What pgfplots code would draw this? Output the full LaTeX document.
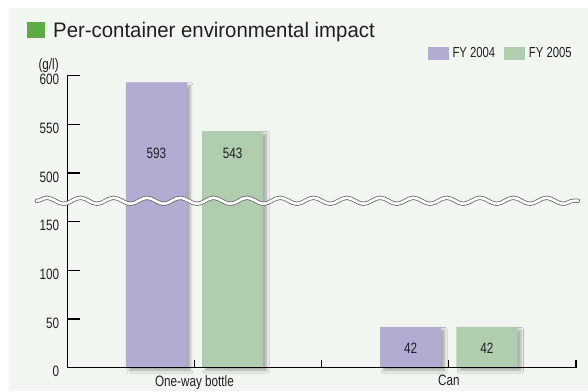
\documentclass[border=0pt]{standalone}
\usepackage{fontspec}
\setmainfont{Liberation Sans}
\newfontfamily\titlefont{Liberation Sans}[FakeStretch=0.97]
\newfontfamily\cond{Liberation Sans}[FakeStretch=0.78]
\usepackage{pgfplots}
\pgfplotsset{compat=1.18}
\usetikzlibrary{decorations.pathmorphing,shadows.blur}
\definecolor{bgc}{RGB}{241,246,240}
\definecolor{purp}{RGB}{178,171,210}
\definecolor{grn}{RGB}{176,205,176}
\definecolor{titlegrn}{RGB}{93,170,71}
\definecolor{txt}{RGB}{35,31,32}
\begin{document}
\begin{tikzpicture}[x=1pt,y=1pt]
\useasboundingbox (0,0) rectangle (588,391);
\fill[white] (0,0) rectangle (588,391);
\fill[bgc] (8.5,0) rectangle (588,382.5);
\fill[titlegrn] (27,352.7) rectangle (45,369.3);
\node[anchor=base west, inner sep=0pt, font=\titlefont\fontsize{21}{24}\selectfont, text=txt] at (53,353.3) {Per-container environmental impact};
\node[anchor=base west, inner sep=0pt, font=\cond\fontsize{15}{18}\selectfont, text=txt] at (38.3,321.2) {(g/l)};
\begin{axis}[
  at={(67.3pt,23.3pt)}, anchor=south west,
  scale only axis, width=508.7pt, height=292.2pt,
  xmin=-0.5, xmax=1.5, ymin=0, ymax=300,
  axis lines=left, axis line style={-, line width=1.2pt, black},
  tick align=inside,
  ytick={0,50,100,150,200,250,300},
  yticklabels={0,50,100,150,500,550,600},
  ytick style={line width=1.2pt, black, /pgfplots/major tick length=13pt},
  xtick={0.5,1.5}, xticklabels={,,},
  xtick style={line width=1.2pt, black, /pgfplots/major tick length=7.7pt},
  extra x ticks={0,1}, extra x tick labels={One-way bottle,Can},
  extra x tick style={major tick length=0pt, xticklabel style={yshift=-7.3pt}},
  ticklabel style={font=\cond\fontsize{15}{18}\selectfont, text=txt, inner sep=0pt},
  yticklabel style={xshift=-8pt, yshift=-4pt},
  y filter/.expression={y>400 ? y-300 : y},
  clip=false, axis on top,
  legend columns=2,
  legend cell align=left,
  legend style={draw=none, fill=none, inner sep=0pt, at={(0.7077,1.076)}, anchor=west,
    font=\cond\fontsize{14.5}{17}\selectfont, text=txt, nodes={inner sep=0pt},
    /tikz/every odd column/.style={column sep=4pt},
    /tikz/every even column/.style={column sep=8.7pt}},
]
\addplot[forget plot, ybar, bar width=0.24, bar shift=-0.15, draw=none, fill=none,
  blur shadow={shadow xshift=3.5pt, shadow yshift=-3pt, shadow blur radius=2.5pt, shadow opacity=30}]
  coordinates {(0,593) (1,42)};
\addplot[forget plot, ybar, bar width=0.24, bar shift=0.15, draw=none, fill=none,
  blur shadow={shadow xshift=3.5pt, shadow yshift=-3pt, shadow blur radius=2.5pt, shadow opacity=30}]
  coordinates {(0,543) (1,42)};
\addplot[ybar, bar width=0.24, bar shift=-0.15, fill=purp, draw=none,
  legend image code/.code={\fill[purp] (0pt,-6.6pt) rectangle (21pt,6.6pt);}]
  coordinates {(0,593) (1,42)};
\addlegendentry{FY 2004}
\addplot[ybar, bar width=0.24, bar shift=0.15, fill=grn, draw=none,
  legend image code/.code={\fill[grn] (0pt,-6.6pt) rectangle (21pt,6.6pt);}]
  coordinates {(0,543) (1,42)};
\addlegendentry{FY 2005}
\node[font=\cond\fontsize{15}{18}\selectfont, text=txt] at (axis cs:-0.15,220) {593};
\node[font=\cond\fontsize{15}{18}\selectfont, text=txt] at (axis cs:0.15,220) {543};
\node[font=\cond\fontsize{15}{18}\selectfont, text=txt] at (axis cs:0.85,19.7) {42};
\node[font=\cond\fontsize{15}{18}\selectfont, text=txt] at (axis cs:1.15,19.7) {42};
\end{axis}
\draw[decorate, decoration={snake, amplitude=3pt, segment length=33.3pt}, draw=gray!85!black, line width=0.8pt, double=white, double distance=2.6pt, line cap=round] (36.7,190.2) -- (578,190.2);
\end{tikzpicture}
\end{document}
